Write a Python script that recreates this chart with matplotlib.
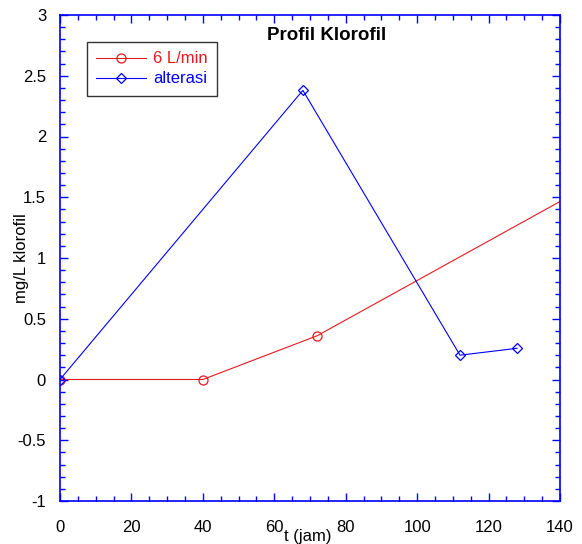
import numpy as np
import matplotlib.pyplot as plt
from matplotlib.ticker import MultipleLocator

plt.rcParams['font.family'] = ['Liberation Sans', 'DejaVu Sans']

# -----------------------------
# Data
# -----------------------------
t_flow = [0, 40, 72, 168]          # last point lies outside the x range
klorofil_flow = [0, 0, 0.36, 1.92]

t_alt = [0, 68, 112, 128]
klorofil_alt = [0, 2.38, 0.20, 0.257]

series_labels = ['6 L/min', 'alterasi']

# -----------------------------
# Plot
# -----------------------------
fig = plt.figure(figsize=(5.82, 5.44), dpi=100)
ax = fig.add_axes([60 / 582, 1 - 501 / 544, 500 / 582, 486 / 544])

red = '#e8191e'
blue = '#0000ff'

ax.plot(t_flow, klorofil_flow, color=red, lw=0.8, marker='o', ms=6.5,
        mfc='none', mec=red, mew=0.9, label=series_labels[0])
ax.plot(t_alt, klorofil_alt, color=blue, lw=0.8, marker='D', ms=5,
        mfc='none', mec=blue, mew=0.9, label=series_labels[1])

ax.set_xlim(0, 140)
ax.set_ylim(-1, 3)
ax.xaxis.set_minor_locator(MultipleLocator(5))
ax.yaxis.set_minor_locator(MultipleLocator(0.1))
ax.set_xticks(np.arange(0, 141, 20))
ax.set_xticklabels([str(v) for v in range(0, 141, 20)])
ax.set_yticks(np.arange(-1, 3.01, 0.5))
ax.set_yticklabels(['-1', '-0.5', '0', '0.5', '1', '1.5', '2', '2.5', '3'])

ax.tick_params(which='both', direction='in', top=True, right=True,
               color=blue, labelsize=12, labelcolor='black', width=1)
ax.tick_params(which='major', length=6)
ax.tick_params(which='minor', length=3.5)
ax.tick_params(axis='x', which='major', pad=14)
ax.tick_params(axis='y', which='major', pad=10)
for sp in ax.spines.values():
    sp.set_color(blue)
    sp.set_linewidth(1.2)

# axis label sits just right of the "60" tick label, as in the original
ax.set_xlabel('t (jam)', fontsize=12)
ax.xaxis.set_label_coords(0.496, -0.058)
ax.set_ylabel('mg/L klorofil', fontsize=12)
ax.yaxis.set_label_coords(-0.062, 0.5)

ax.text(0.534, 0.957, 'Profil Klorofil', transform=ax.transAxes,
        ha='center', va='center', fontsize=13.5, fontweight='bold')

leg = ax.legend(loc='upper left', bbox_to_anchor=(0.054, 0.944),
                borderaxespad=0, fancybox=False, fontsize=12,
                handlelength=3.0, handletextpad=0.4, borderpad=0.55,
                labelspacing=0.3, labelcolor='linecolor')
leg.get_frame().set_edgecolor('black')
leg.get_frame().set_linewidth(1.0)

fig.savefig('out.png', dpi=100)
